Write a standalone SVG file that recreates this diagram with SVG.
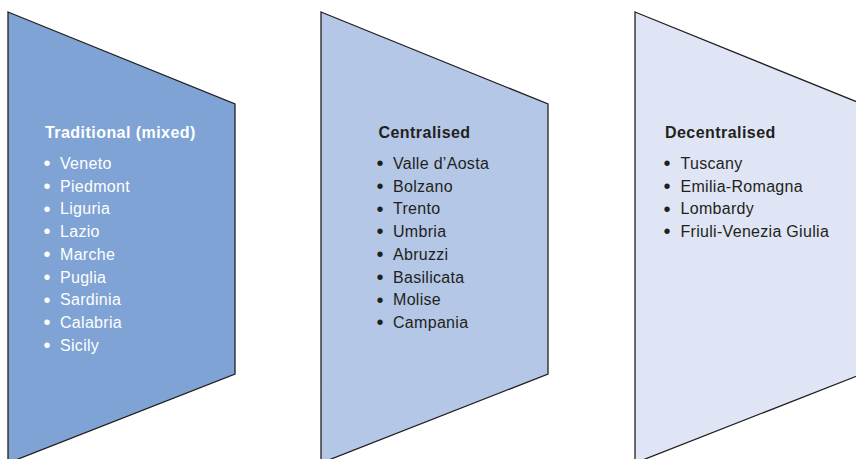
<svg xmlns="http://www.w3.org/2000/svg" width="856" height="459" viewBox="0 0 856 459">
<style>
.shape{stroke:#231f20;stroke-width:1.3;stroke-linejoin:miter}
.title{font-family:"Liberation Sans",Arial,sans-serif;font-size:16px;font-weight:bold;letter-spacing:0.45px}
.item{font-family:"Liberation Sans",Arial,sans-serif;font-size:16px;letter-spacing:0.3px}
.b{font-size:20px;letter-spacing:0}
.light{fill:#ffffff}
.dark{fill:#231f20}
</style>
<rect width="856" height="459" fill="#ffffff"/>
<g id="traditional">
<polygon class="shape" fill="#7ea3d4" points="8,12 235,104 235,374 8,463"/>
<text class="title light" x="45" y="138">Traditional (mixed)</text>
<g class="item light">
<text class="b" x="43.5" y="170">•</text><text x="60" y="168.8">Veneto</text>
<text class="b" x="43.5" y="192.7">•</text><text x="60" y="191.5">Piedmont</text>
<text class="b" x="43.5" y="215.5">•</text><text x="60" y="214.3">Liguria</text>
<text class="b" x="43.5" y="238.2">•</text><text x="60" y="237">Lazio</text>
<text class="b" x="43.5" y="261">•</text><text x="60" y="259.8">Marche</text>
<text class="b" x="43.5" y="283.7">•</text><text x="60" y="282.5">Puglia</text>
<text class="b" x="43.5" y="306.5">•</text><text x="60" y="305.3">Sardinia</text>
<text class="b" x="43.5" y="329.2">•</text><text x="60" y="328">Calabria</text>
<text class="b" x="43.5" y="352">•</text><text x="60" y="350.8">Sicily</text>
</g>
</g>
<g id="centralised">
<polygon class="shape" fill="#b4c7e7" points="321,12 548,104 548,374 321,463"/>
<text class="title dark" x="378.5" y="138">Centralised</text>
<g class="item dark">
<text class="b" x="376.5" y="170">•</text><text x="393" y="168.8">Valle d’Aosta</text>
<text class="b" x="376.5" y="192.7">•</text><text x="393" y="191.5">Bolzano</text>
<text class="b" x="376.5" y="215.5">•</text><text x="393" y="214.3">Trento</text>
<text class="b" x="376.5" y="238.2">•</text><text x="393" y="237">Umbria</text>
<text class="b" x="376.5" y="261">•</text><text x="393" y="259.8">Abruzzi</text>
<text class="b" x="376.5" y="283.7">•</text><text x="393" y="282.5">Basilicata</text>
<text class="b" x="376.5" y="306.5">•</text><text x="393" y="305.3">Molise</text>
<text class="b" x="376.5" y="329.2">•</text><text x="393" y="328">Campania</text>
</g>
</g>
<g id="decentralised">
<polygon class="shape" fill="#dfe5f4" points="635,12 862,104 862,374 635,463"/>
<text class="title dark" x="665" y="138">Decentralised</text>
<g class="item dark">
<text class="b" x="663.5" y="170">•</text><text x="680.5" y="168.8">Tuscany</text>
<text class="b" x="663.5" y="192.7">•</text><text x="680.5" y="191.5">Emilia-Romagna</text>
<text class="b" x="663.5" y="215.5">•</text><text x="680.5" y="214.3">Lombardy</text>
<text class="b" x="663.5" y="238.2">•</text><text x="680.5" y="237">Friuli-Venezia Giulia</text>
</g>
</g>
<g id="connectors"></g>
</svg>
